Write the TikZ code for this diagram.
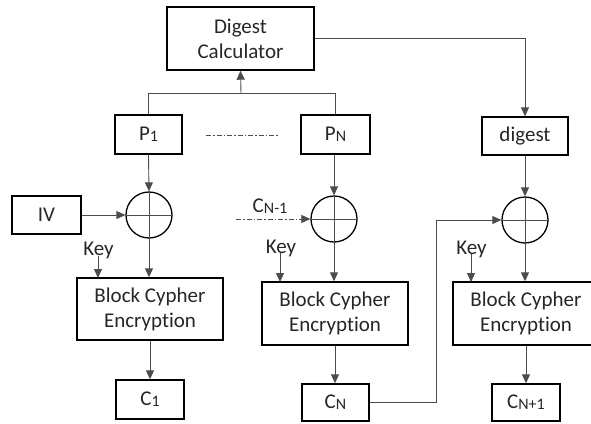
\documentclass[tikz,border=0pt]{standalone}
\usepackage{fontspec}
\setmainfont{Carlito}[RawFeature={-liga}]
\usetikzlibrary{arrows.meta,calc}

% smaller, slightly lowered index letters (P1, CN, CN-1, CN+1)
\newcommand\idx[1]{\raisebox{-1.2pt}{\fontsize{16}{16}\selectfont #1}}

\begin{document}
\begin{tikzpicture}[x=1pt,y=-1pt,
  box/.style={draw=black, line width=1.4pt, inner sep=0pt, align=center,
              font=\fontsize{21}{25}\selectfont, text=black!85},
  xor/.style={draw=black, line width=1.3pt, circle, minimum size=46pt, inner sep=0pt},
  wire/.style={draw=black!70, line width=0.9pt},
  arr/.style={wire, -{Triangle[width=8pt,length=9pt]}},
  dashdot/.style={dash pattern=on 5pt off 2pt on 1.5pt off 2pt},
  lbl/.style={font=\fontsize{21}{25}\selectfont, text=black!85, inner sep=0pt}
]
\clip (0,0) rectangle (591,423);

% boxes
\node[box, minimum width=147pt, minimum height=63pt] (dc) at (240.5,38.5) {Digest\\Calculator};
\node[box, minimum width=67pt, minimum height=39pt] (p1) at (148.5,134.5) {P\idx{1}};
\node[box, minimum width=69pt, minimum height=39pt] (pn) at (335.5,134.5) {P\idx{N}};
\node[box, minimum width=86pt, minimum height=38pt] (dg) at (525,136) {digest};
\node[box, minimum width=69pt, minimum height=38pt] (iv) at (46.5,215) {IV};

% xor gates
\node[xor] (x1) at (149,215) {};
\node[xor] (x2) at (334,219) {};
\node[xor] (x3) at (525,220) {};
\foreach \g in {x1,x2,x3}{
  \draw[wire] (\g.north) -- (\g.south);
  \draw[wire] (\g.west) -- (\g.east);
}

% block cipher stages
\node[box, minimum width=146pt, minimum height=62pt] (b1) at (150,309) {Block Cypher\\Encryption};
\node[box, minimum width=146pt, minimum height=63pt] (b2) at (335,313.5) {Block Cypher\\Encryption};
\node[box, minimum width=146pt, minimum height=63pt] (b3) at (526,313.5) {Block Cypher\\Encryption};

% ciphertext outputs
\node[box, minimum width=68pt, minimum height=39pt] (c1) at (150,399.5) {C\idx{1}};
\node[box, minimum width=67pt, minimum height=37pt] (cn) at (335.5,402.5) {C\idx{N}};
\node[box, minimum width=68pt, minimum height=37pt] (cn1) at (526,402.5) {C\idx{N+1}};

% key labels
\node[lbl, anchor=base] (k1) at (98.5,255.5) {Key};
\node[lbl, anchor=base] (k2) at (281,253) {Key};
\node[lbl, anchor=base] (k3) at (471.5,254) {Key};
\node[lbl, anchor=base] (cprev) at (270,212) {C\idx{N-1}};

% plaintext blocks feed the digest calculator
\coordinate (jn) at (241,93);
\draw[wire] (p1.north) -- (p1.north |- jn) -- (pn.north |- jn) -- (pn.north);
\draw[arr] (jn) -- (dc.south);
\draw[arr] (dc.east) -| (dg.north);

% dots between the plaintext blocks
\coordinate (d0) at (206,135);
\coordinate (d1) at (278,135);
\draw[wire, dashdot, line width=0.7pt] (d0) -- (d1);

% first stage
\draw[arr] (p1.south) -- (x1.north);
\draw[arr] (iv.east) -- (x1.west);
\draw[arr] (x1.south) -- (x1.south |- b1.north);
\draw[arr] (k1.base) ++(-0.5,0) -- ++(0,22.5);
\draw[arr] (b1.south) -- (b1.south |- c1.north);

% N-th stage
\draw[arr] (x2.north |- pn.south) -- (x2.north);
\coordinate (cs) at (236,219);
\draw[arr, dashdot, line width=0.7pt] (cs) -- (x2.west);
\draw[arr] (x2.south) -- (x2.south |- b2.north);
\draw[arr] (k2.base) ++(-1,0) -- ++(0,29);
\draw[arr] (b2.south) -- (b2.south |- cn.north);

% digest stage, chained from C_N
\draw[arr] (dg.south) -- (x3.north);
\coordinate (bend) at (436,402.5);
\draw[arr] (cn.east) -- (bend) |- (x3.west);
\draw[arr] (x3.south) -- (x3.south |- b3.north);
\draw[arr] (k3.base) ++(-0.5,0) -- ++(0,28);
\draw[arr] (b3.south) -- (b3.south |- cn1.north);
\end{tikzpicture}
\end{document}
